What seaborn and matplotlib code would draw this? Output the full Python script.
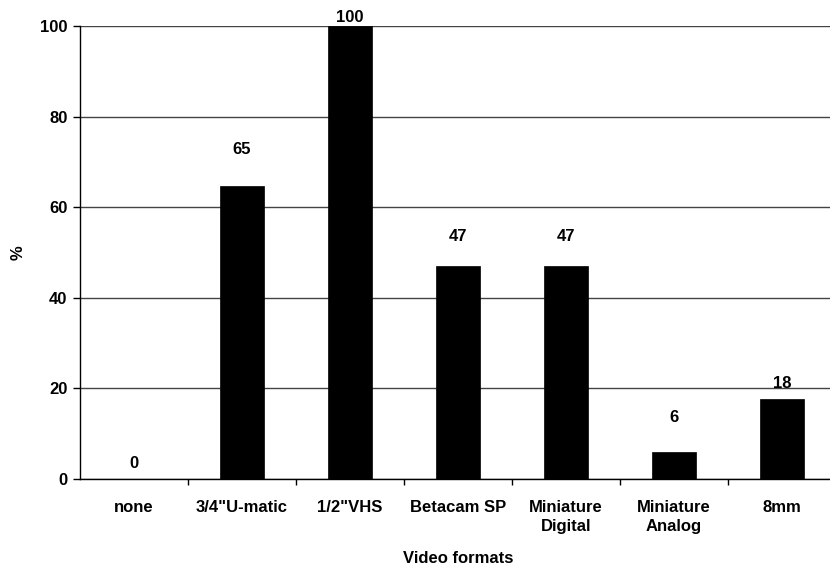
import numpy as np
import pandas as pd
import matplotlib
matplotlib.use("Agg")
import matplotlib.pyplot as plt
import seaborn as sns

# ================================================================
# DATA
# ================================================================
formats = ["none", "3/4\"U-matic", "1/2\"VHS", "Betacam SP",
           "Miniature\nDigital", "Miniature\nAnalog", "8mm"]
percent = [0.0, 64.7, 100.0, 47.1, 47.1, 5.9, 17.6]
labels = ["0", "65", "100", "47", "47", "6", "18"]

# label gap above bar (pixels), Excel-like placement
label_gap = [16, 36, 8, 29, 29, 35, 16]

df = pd.DataFrame({"format": formats, "percent": percent})

# ================================================================
# PLOT
# ================================================================
sns.set_theme(style="white")
plt.rcParams["font.family"] = ["Liberation Sans", "DejaVu Sans"]
plt.rcParams["font.weight"] = "bold"
plt.rcParams["text.color"] = "black"
plt.rcParams["axes.labelcolor"] = "black"
plt.rcParams["xtick.color"] = "black"
plt.rcParams["ytick.color"] = "black"

FS = 12

fig = plt.figure(figsize=(8.3, 5.67), dpi=100)
ax = fig.add_axes([80 / 830, 1 - 479 / 567, 756 / 830, 453 / 567])

sns.barplot(data=df, x="format", y="percent", color="black",
            width=0.41, saturation=1, edgecolor="black", linewidth=0.5,
            ax=ax, zorder=3)

ax.set_ylim(0, 100)
ax.set_xlim(-0.5, 6.5)
ax.set_yticks(np.arange(0, 101, 20))
ax.yaxis.grid(True, color="#444444", linewidth=1, zorder=0)
ax.set_axisbelow(True)

for i, (v, lab) in enumerate(zip(percent, labels)):
    ax.annotate(lab, (i, v), xytext=(0, label_gap[i]), textcoords="offset pixels",
                ha="center", va="center", fontsize=FS, fontweight="bold",
                color="black", annotation_clip=False)

# category boundaries get the tick marks
ax.set_xticks(np.arange(0.5, 6.5, 1), minor=True)
ax.tick_params(axis="x", which="major", bottom=True, length=0, pad=15, labelsize=FS)
ax.tick_params(axis="x", which="minor", bottom=True, length=4, width=1, color="black", direction="out")
ax.tick_params(axis="y", left=True, length=5, width=1, color="black", direction="out", labelsize=FS, pad=4)
ax.set_xticklabels(formats, fontweight="bold")
for t in ax.get_xticklabels():
    t.set_linespacing(1.35)
for t in ax.get_yticklabels():
    t.set_fontweight("bold")

for s in ["top", "right"]:
    ax.spines[s].set_visible(False)
for s in ["left", "bottom"]:
    ax.spines[s].set_color("black")
    ax.spines[s].set_linewidth(1)
    ax.spines[s].set_zorder(4)

ax.set_xlabel("Video formats", fontsize=FS, fontweight="bold", labelpad=12)
ax.set_ylabel("%", fontsize=FS, fontweight="bold", labelpad=10)

fig.savefig("out.png", dpi=100)
